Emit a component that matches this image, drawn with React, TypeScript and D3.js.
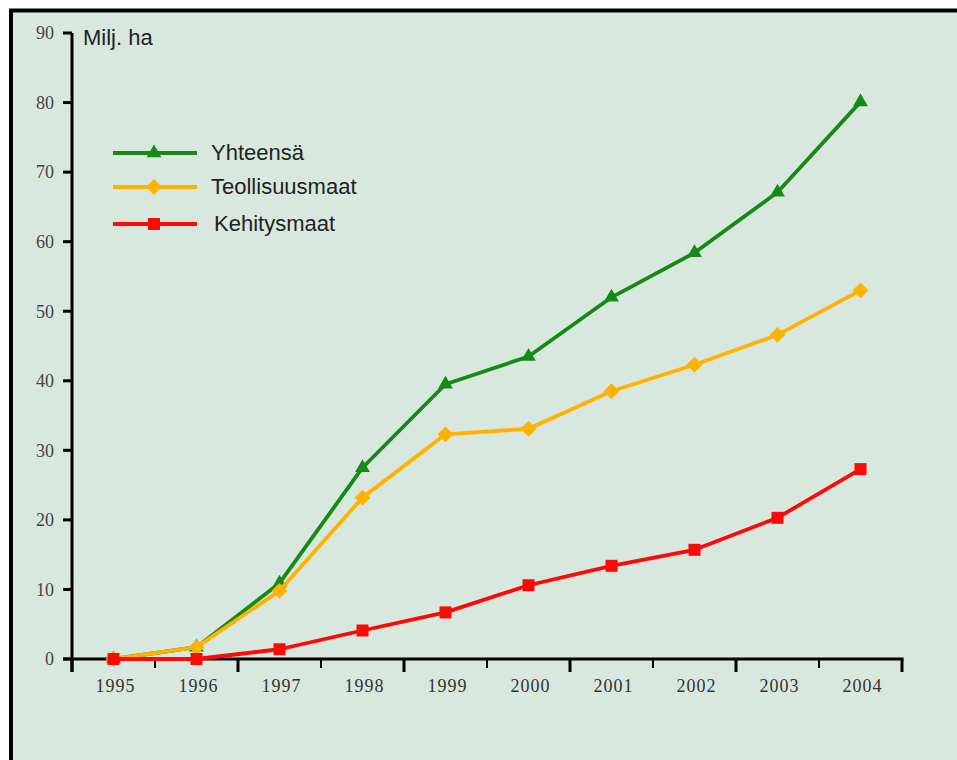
import * as d3 from 'd3';

const years = ['1995', '1996', '1997', '1998', '1999', '2000', '2001', '2002', '2003', '2004'];
const yhteensa = [0, 1.7, 10.9, 27.5, 39.5, 43.5, 52, 58.4, 67.1, 80.1];
const teollisuusmaat = [0, 1.7, 9.8, 23.2, 32.3, 33.1, 38.5, 42.3, 46.6, 53];
const kehitysmaat = [0, 0, 1.4, 4.1, 6.7, 10.6, 13.4, 15.7, 20.3, 27.3];
const yTicks = [0, 10, 20, 30, 40, 50, 60, 70, 80, 90];

const series = [
  { name: 'Yhteensä', values: yhteensa, color: '#158a15', marker: 'triangle' },
  { name: 'Teollisuusmaat', values: teollisuusmaat, color: '#ffb200', marker: 'diamond' },
  { name: 'Kehitysmaat', values: kehitysmaat, color: '#ff0808', marker: 'square' },
];

const W = 957;
const H = 760;

const x = d3.scaleBand().domain(years).range([72, 902]);
const y = d3.scaleLinear().domain([0, 90]).range([659, 33]);

const symbolFor = (m: string) => {
  if (m === 'triangle') return d3.symbol(d3.symbolTriangle, 95)();
  if (m === 'diamond') return d3.symbol(d3.symbolDiamond2, 160)();
  return d3.symbol(d3.symbolSquare, 144)();
};

const serif = '"Liberation Serif", "Times New Roman", serif';
const sans = '"Liberation Sans", Arial, sans-serif';

export default function App() {
  const line = d3
    .line<number>()
    .x((_, i) => (x(years[i]) as number) + x.bandwidth() / 2)
    .y(d => y(d));

  const bounds = [...years.map(yr => x(yr) as number), 902];

  return (
    <div style={{ position: 'absolute', left: 0, top: 0 }}>
      <svg width={W} height={H} style={{ display: 'block' }}>
        <rect x={0} y={0} width={W} height={H} fill="#ffffff" />
        <rect x={11} y={10.5} width={W + 20} height={H + 20} fill="#d9e8df" stroke="#000" strokeWidth={4} />

        {/* y axis */}
        <line x1={72} x2={72} y1={y(90)} y2={672} stroke="#000" strokeWidth={3} />
        {yTicks.map(t => (
          <g key={t}>
            <line x1={63} x2={72} y1={y(t)} y2={y(t)} stroke="#000" strokeWidth={3} />
            <text
              x={54}
              y={y(t)}
              dy="0.35em"
              textAnchor="end"
              fontFamily={serif}
              fontSize={18}
              fill="#444"
            >
              {t}
            </text>
          </g>
        ))}
        <text x={83} y={45} fontFamily={sans} fontSize={22} fill="#222">
          Milj. ha
        </text>

        {/* x axis */}
        <line x1={63} x2={903.5} y1={y(0)} y2={y(0)} stroke="#000" strokeWidth={3} />
        {bounds.map((b, i) => (
          <line key={i} x1={b} x2={b} y1={y(0)} y2={y(0) + (i % 2 === 0 ? 13 : 9)} stroke="#000" strokeWidth={i % 2 === 0 ? 3 : 2} />
        ))}
        {years.map(yr => (
          <text
            key={yr}
            x={(x(yr) as number) + x.bandwidth() / 2 + 2}
            y={692}
            textAnchor="middle"
            fontFamily={serif}
            fontSize={18}
            letterSpacing={1}
            fill="#333"
          >
            {yr}
          </text>
        ))}

        {/* series */}
        {series.map(s => (
          <g key={s.name}>
            <path d={line(s.values) as string} fill="none" stroke={s.color} strokeWidth={3.8} strokeLinejoin="round" />
            {s.values.map((v, i) => (
              <path
                key={i}
                d={symbolFor(s.marker) as string}
                transform={`translate(${(x(years[i]) as number) + x.bandwidth() / 2},${y(v)})`}
                fill={s.color}
              />
            ))}
          </g>
        ))}

        {/* legend */}
        {series.map((s, i) => {
          const ly = [153, 187, 224][i];
          return (
            <g key={s.name}>
              <line x1={113} x2={197} y1={ly} y2={ly} stroke={s.color} strokeWidth={4} />
              <path d={symbolFor(s.marker) as string} transform={`translate(154,${ly})`} fill={s.color} />
              <text x={i === 2 ? 214 : 211} y={ly + 7} fontFamily={sans} fontSize={22} fill="#222">
                {s.name}
              </text>
            </g>
          );
        })}
      </svg>
    </div>
  );
}
